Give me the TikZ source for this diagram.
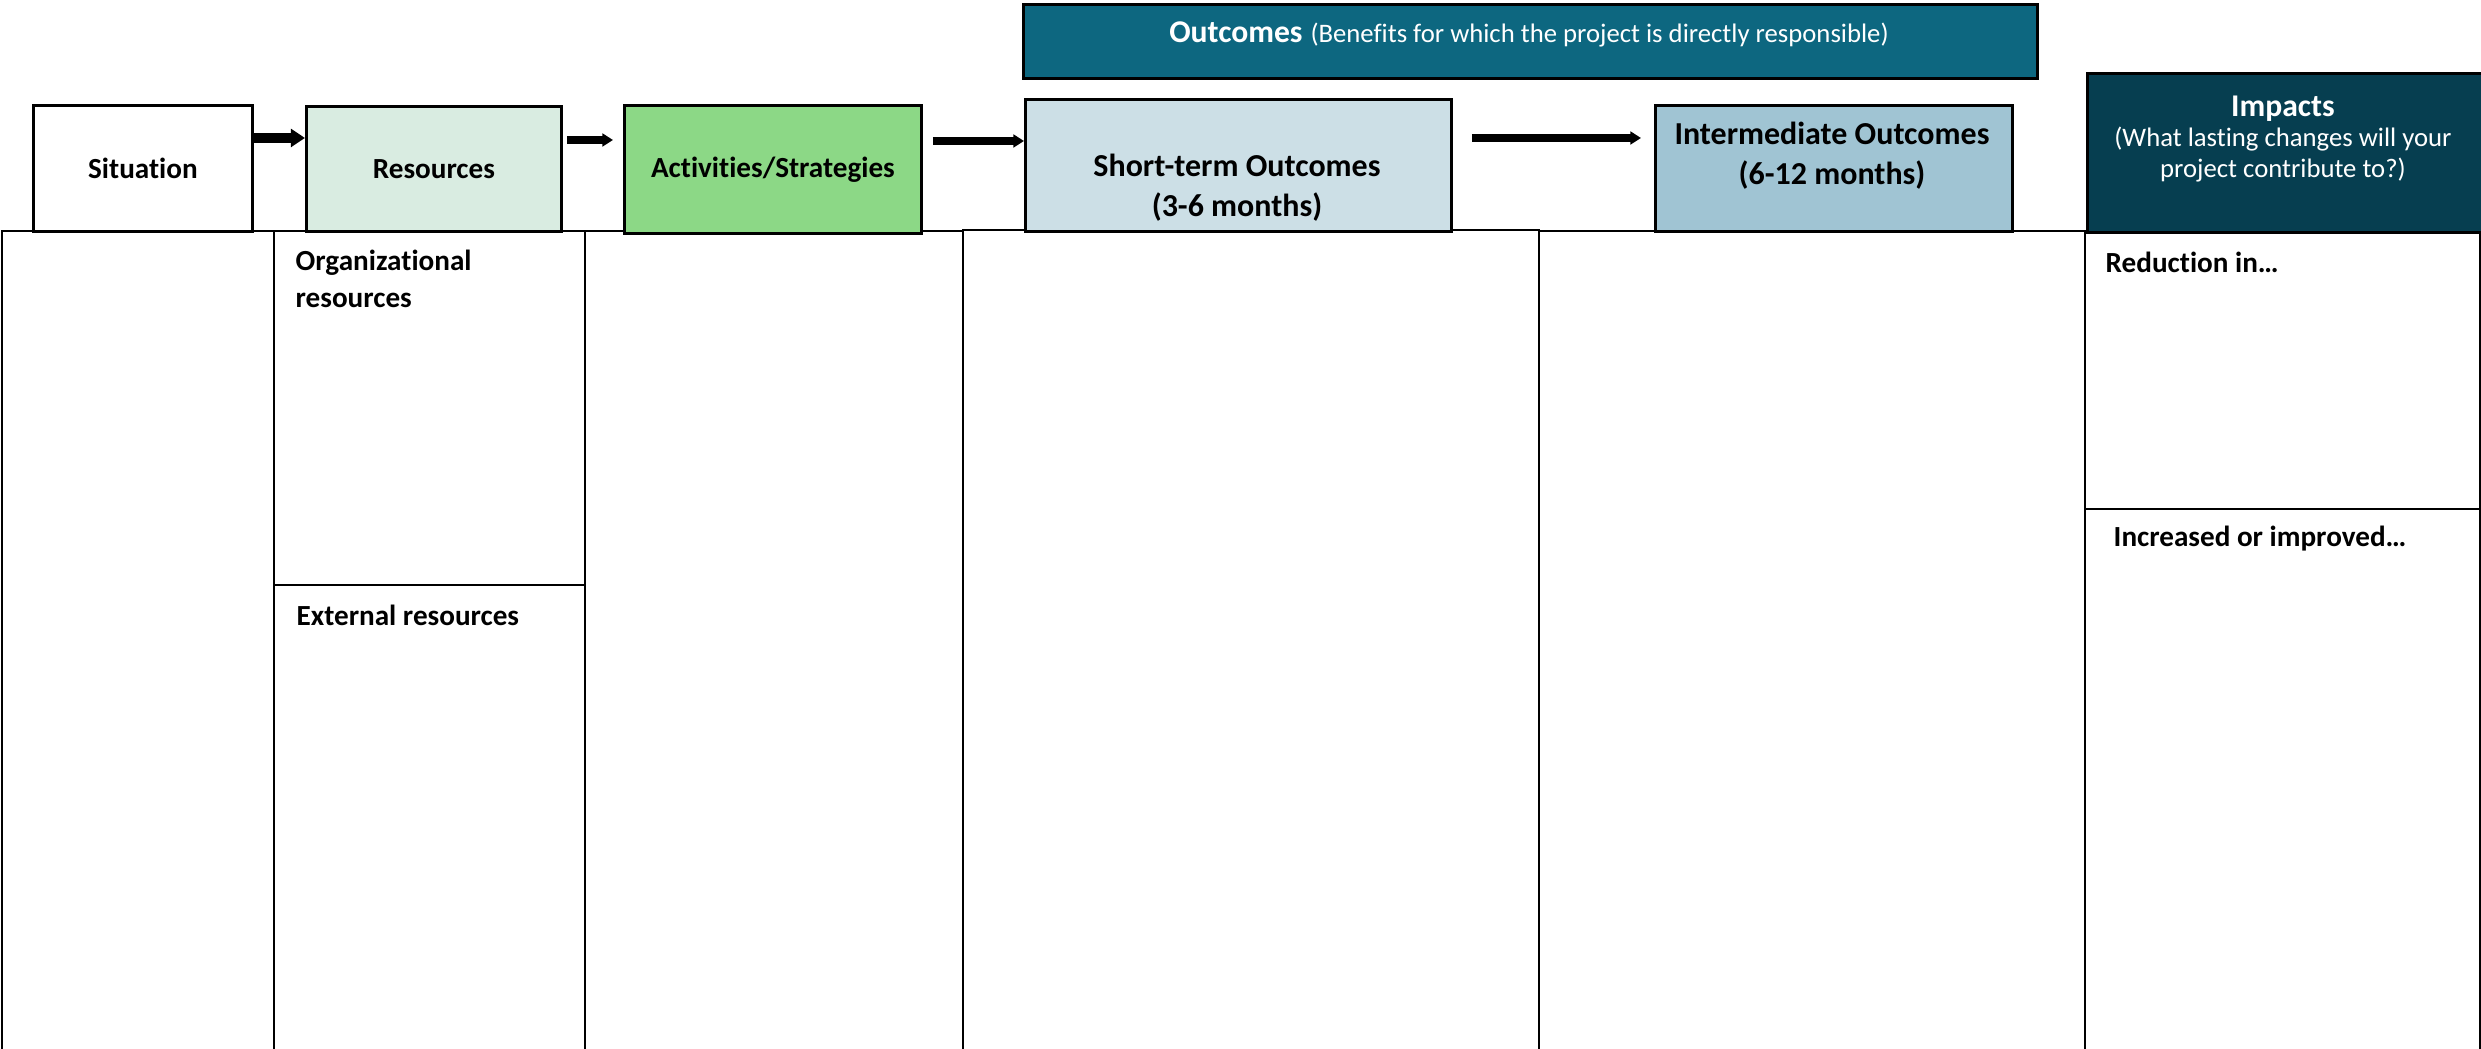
\documentclass[tikz,border=0pt]{standalone}
\usepackage{fontspec}
\setmainfont{Carlito}[Ligatures=NoCommon]
\usepackage{xcolor}
\usetikzlibrary{arrows.meta}

\definecolor{outteal}{RGB}{13,103,128}
\definecolor{impteal}{RGB}{6,62,80}
\definecolor{resgreen}{RGB}{217,236,225}
\definecolor{actgreen}{RGB}{140,216,134}
\definecolor{stblue}{RGB}{204,223,230}
\definecolor{intblue}{RGB}{160,196,211}

\begin{document}
\begin{tikzpicture}[
        box/.style={draw=black, line width=0.8pt, anchor=north west, inner sep=0pt},
        col/.style={draw=black, line width=0.6pt},
        hd/.style={font=\fontsize{8.3}{10.5}\selectfont\bfseries, align=center},
        bighd/.style={font=\fontsize{9.1}{11.4}\selectfont\bfseries, align=center},
        lbl/.style={font=\fontsize{8.3}{10.5}\selectfont\bfseries, align=left, anchor=west, inner sep=0pt},
        arr/.style={-{Triangle[length=3pt, width=3.6pt]}, line width=2.1pt},
        arrthick/.style={-{Triangle[length=4pt, width=5pt]}, line width=2.6pt}
    ]
        \useasboundingbox (0,0) rectangle (24.81,-10.49);

        % Colonne
        \draw[col] (0.02,-2.31) rectangle (2.74,-10.55);
        \draw[col] (2.74,-2.31) rectangle (5.85,-10.55);
        \draw[col] (2.74,-5.85) -- (5.85,-5.85);
        \draw[col] (5.85,-2.31) rectangle (9.63,-10.55);
        \draw[col] (9.63,-2.30) rectangle (15.39,-10.55);
        \draw[col] (15.39,-2.31) rectangle (20.85,-10.55);
        \draw[col] (20.85,-2.31) rectangle (24.80,-10.55);
        \draw[col] (20.85,-5.09) -- (24.80,-5.09);

        % Intestazioni
        \node[box, hd, minimum width=2.19cm, minimum height=1.26cm] (sit) at (0.32,-1.04) {Situation};
        \node[box, hd, fill=resgreen, minimum width=2.55cm, minimum height=1.25cm] (res) at (3.05,-1.05) {Resources};
        \node[box, hd, fill=actgreen, minimum width=2.97cm, minimum height=1.28cm] (act) at (6.23,-1.04) {Activities/Strategies};
        \node[box, fill=stblue, minimum width=4.26cm, minimum height=1.32cm] (st) at (10.24,-0.98) {};
        \node[bighd] (sttxt) at (12.37,-1.88) {Short-term Outcomes\\(3-6 months)};
        \node[box, fill=intblue, minimum width=3.57cm, minimum height=1.26cm] (int) at (16.54,-1.04) {};
        \node[bighd] (inttxt) at (18.32,-1.56) {Intermediate Outcomes\\(6-12 months)};

        % Outcomes e Impacts
        \node[box, fill=outteal, minimum width=10.14cm, minimum height=0.74cm] (out) at (10.22,-0.03) {};
        \node[text=white] (outtxt) at (15.29,-0.34) {{\fontsize{9}{11}\selectfont\bfseries Outcomes} {\fontsize{7.6}{9}\selectfont(Benefits for which the project is directly responsible)}};
        \node[box, fill=impteal, minimum width=3.95cm, minimum height=1.59cm] (imp) at (20.86,-0.72) {};
        \node[text=white, align=center, font=\fontsize{7.6}{8.7}\selectfont] (imptxt) at (22.83,-1.39) {{\fontsize{9}{9.5}\selectfont\bfseries Impacts}\\(What lasting changes will your\\project contribute to?)};

        % Frecce
        \draw[arrthick] (sit.east |- 0,-1.38) -- (res.west |- 0,-1.38);
        \draw[arr] ([xshift=0.04cm]res.east |- 0,-1.40) -- ([xshift=-0.10cm]act.west |- 0,-1.40);
        \draw[arr] ([xshift=0.10cm]act.east |- 0,-1.41) -- (st.west |- 0,-1.41);
        \draw[arr] ([xshift=0.19cm]st.east |- 0,-1.38) -- ([xshift=-0.13cm]int.west |- 0,-1.38);

        % Etichette delle colonne
        \node[lbl] (orgres) at (2.95,-2.79) {Organizational\\resources};
        \node[lbl] (extres) at (2.96,-6.15) {External resources};
        \node[lbl] (reduc) at (21.05,-2.62) {Reduction in…};
        \node[lbl] (incr) at (21.13,-5.39) {Increased or improved…};
    \end{tikzpicture}
\end{document}
